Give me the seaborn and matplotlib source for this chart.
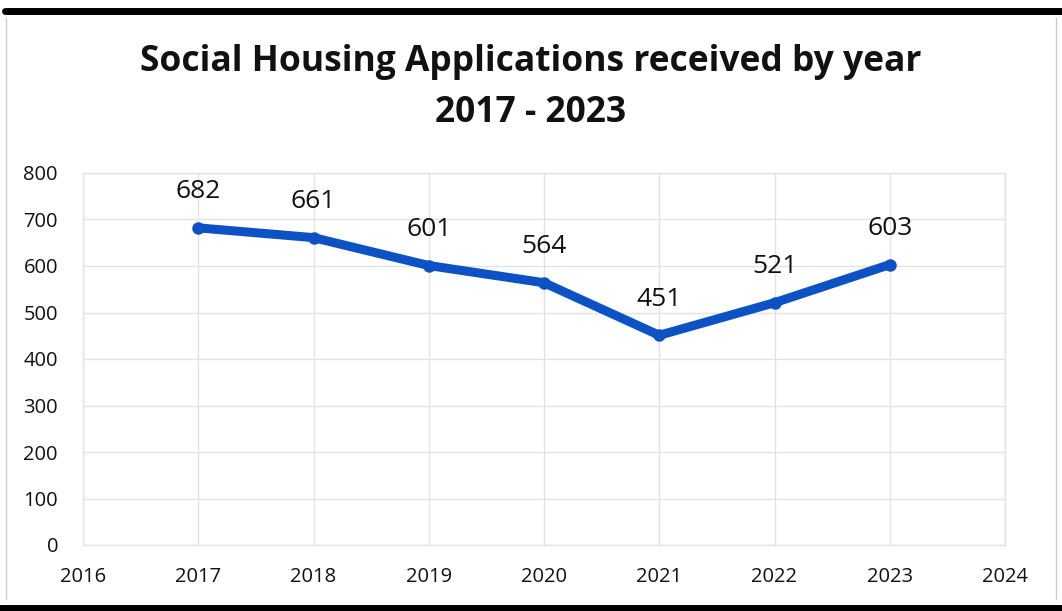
import numpy as np
import pandas as pd
import matplotlib
matplotlib.use("Agg")
import matplotlib.pyplot as plt
import seaborn as sns

# Daten
jahre = [2017, 2018, 2019, 2020, 2021, 2022, 2023]
antraege = [682, 661, 601, 564, 451, 521, 603]
x_ticks = [2016, 2017, 2018, 2019, 2020, 2021, 2022, 2023, 2024]
y_ticks = [0, 100, 200, 300, 400, 500, 600, 700, 800]

df = pd.DataFrame({"jahr": jahre, "antraege": antraege})

sns.set_style("white")
plt.rcParams["font.family"] = ["Open Sans", "DejaVu Sans"]

fig = plt.figure(figsize=(10.62, 6.11), dpi=100)
ax = fig.add_axes([83 / 1062, 1 - 545 / 611, (1005 - 83) / 1062, (545 - 173) / 611])

sns.lineplot(data=df, x="jahr", y="antraege", ax=ax, color="#0d52c4",
             linewidth=6.5, marker="o", markersize=9, markeredgewidth=0)

for x, y in zip(jahre, antraege):
    ax.annotate(str(y), (x, y), xytext=(0, 17), textcoords="offset points",
                ha="center", va="bottom", fontsize=19, color="#111111")

ax.set_xlim(2016, 2024)
ax.set_ylim(0, 800)
ax.set_xticks(x_ticks)
ax.set_yticks(y_ticks)
ax.tick_params(axis="both", labelsize=14.5, length=0, colors="#111111")
ax.tick_params(axis="x", pad=16)
ax.tick_params(axis="y", pad=18)
ax.grid(True, color="#e3e3e3", linewidth=1)
for s in ax.spines.values():
    s.set_color("#e3e3e3")
    s.set_linewidth(1)
ax.set_xlabel("")
ax.set_ylabel("")

fig.text(0.5, 1 - 62 / 611, "Social Housing Applications received by year",
         ha="center", va="center", fontsize=25.5, fontweight="bold", color="#111111")
fig.text(0.5, 1 - 113 / 611, "2017 - 2023",
         ha="center", va="center", fontsize=25.5, fontweight="bold", color="#111111")

# Rahmen des gescannten Bildes
fig.add_artist(plt.Line2D([0.005, 1.0], [1 - 11 / 611] * 2, transform=fig.transFigure,
                          color="black", linewidth=5))
fig.add_artist(plt.Line2D([0.0, 1.0], [3 / 611] * 2, transform=fig.transFigure,
                          color="black", linewidth=5))
fig.add_artist(plt.Line2D([6 / 1062] * 2, [0.02, 0.97], transform=fig.transFigure,
                          color="#cccccc", linewidth=1))
fig.add_artist(plt.Line2D([1056 / 1062] * 2, [0.02, 0.97], transform=fig.transFigure,
                          color="#cccccc", linewidth=1))

fig.savefig("out.png", dpi=100)
